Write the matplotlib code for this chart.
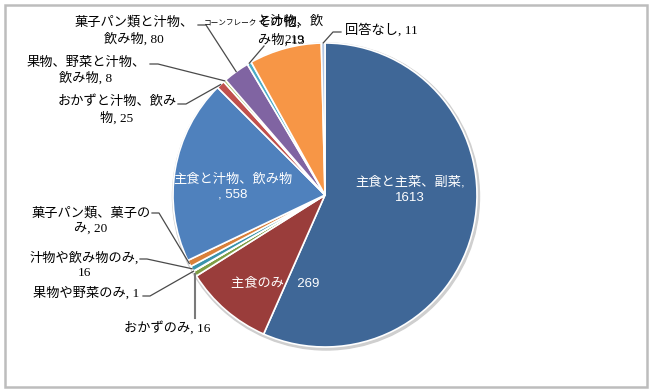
import matplotlib
matplotlib.use("Agg")
import matplotlib.pyplot as plt
import numpy as np
from matplotlib.patches import Rectangle, Circle

plt.rcParams['font.family'] = ['Liberation Serif', 'Noto Sans CJK JP', 'DejaVu Sans']

categories = ['主食と主菜、副菜', '主食のみ', 'おかずのみ', '果物や野菜のみ', '汁物や飲み物のみ',
              '菓子パン類、菓子のみ', '主食と汁物、飲み物', 'おかずと汁物、飲み物',
              '果物、野菜と汁物、飲み物', '菓子パン類と汁物、飲み物',
              'コーンフレークと汁物、飲み物', 'その他', '回答なし']
values = [1613, 269, 16, 1, 16, 20, 558, 25, 8, 80, 13, 219, 11]
colors = ['#3F6797', '#9A3D3B', '#7F9E45', '#644F85', '#3A93AD', '#D9803A',
          '#4F81BD', '#C0504D', '#9BBB59', '#8064A2', '#4BACC6', '#F79646', '#B4C6E0']

W, H = 652, 392
fig = plt.figure(figsize=(W / 100, H / 100), dpi=100)
ax = fig.add_axes([0, 0, 1, 1])

def Y(y):
    return H - y

# outer frame
ax.add_patch(Rectangle((5, Y(387)), 642, 382, fill=False, edgecolor='#BDBDBD', lw=1.8, zorder=0))

cx, cy, R = 325, Y(195), 152
ax.add_patch(Circle((cx + 1, cy - 1.5), R + 1.5, color='#CFCFCF', zorder=0.5))
wedges, _ = ax.pie(values, colors=colors, startangle=90, counterclock=False,
                   center=(cx, cy), radius=R, frame=True,
                   wedgeprops=dict(edgecolor='white', linewidth=1.2))
ax.set_xlim(0, W)
ax.set_ylim(0, H)
ax.set_aspect('equal')
ax.axis('off')

def edge_point(i, rr=1.0):
    w = wedges[i]
    a = np.deg2rad((w.theta1 + w.theta2) / 2)
    return cx + R * rr * np.cos(a), cy + R * rr * np.sin(a)

FS = 9.5
SANS = ['Liberation Sans', 'Noto Sans CJK JP', 'DejaVu Sans']

def lbl(s, x, y, color='black', ha='center', fs=FS, **kw):
    ax.text(x, Y(y), s, ha=ha, va='center', color=color, fontsize=fs,
            multialignment='center', linespacing=1.3, zorder=5, **kw)

def leader(i, pts):
    ex, ey = edge_point(i, 1.0)
    xs = [p[0] for p in pts] + [ex]
    ys = [Y(p[1]) for p in pts] + [ey]
    ax.plot(xs, ys, color='#4A4A4A', lw=0.9, zorder=4)

# inside labels
lbl(f'{categories[0]},\n{values[0]}', 410, 190, color='white', family=SANS)
lbl(f'{categories[1]}\u3000{values[1]}', 275, 283, color='white', family=SANS)
lbl(f'{categories[6]}\n, {values[6]}', 233, 187, color='white', family=SANS)

# outside labels
lbl(f'菓子パン類と汁物、\n飲み物, {values[9]}', 134, 31)
leader(9, [(198, 25), (206, 25)])

lbl(f'果物、野菜と汁物、\n飲み物, {values[8]}', 86, 71)
leader(8, [(150, 64), (158, 64)])

lbl(f'おかずと汁物、飲み\n物, {values[7]}', 117, 110)
leader(7, [(178, 104), (186, 104)])

lbl(f'菓子パン類、菓子の\nみ, {values[5]}', 91, 221)
leader(5, [(152, 213), (159, 213)])

lbl(f'汁物や飲み物のみ,\n{values[4]}', 84, 265)
leader(4, [(140, 259), (147, 259)])

lbl(f'果物や野菜のみ, {values[3]}', 86, 293)
leader(3, [(143, 296), (150, 296)])

lbl(f'おかずのみ, {values[2]}', 167, 328)
ax.plot([edge_point(2)[0], edge_point(2)[0]], [Y(318), edge_point(2)[1]], color='#7A7A7A', lw=1.5, zorder=4)

lbl(f'回答なし, {values[12]}', 381, 30)
leader(12, [(341, 32), (333, 32)])

# overlapping top labels (コーンフレーク / その他), as in the reference
lbl('コーンフレーク', 257, 22, ha='right', fs=5.5)
lbl('と汁物、飲', 257, 22, ha='left')
lbl(f'み物, {values[10]}', 258, 40, ha='left')
leader(10, [(264, 46)])
lbl('その他,', 258, 22, ha='left')
lbl(f'{values[11]}', 284, 40, ha='left')

fig.savefig('out.png', dpi=100)
